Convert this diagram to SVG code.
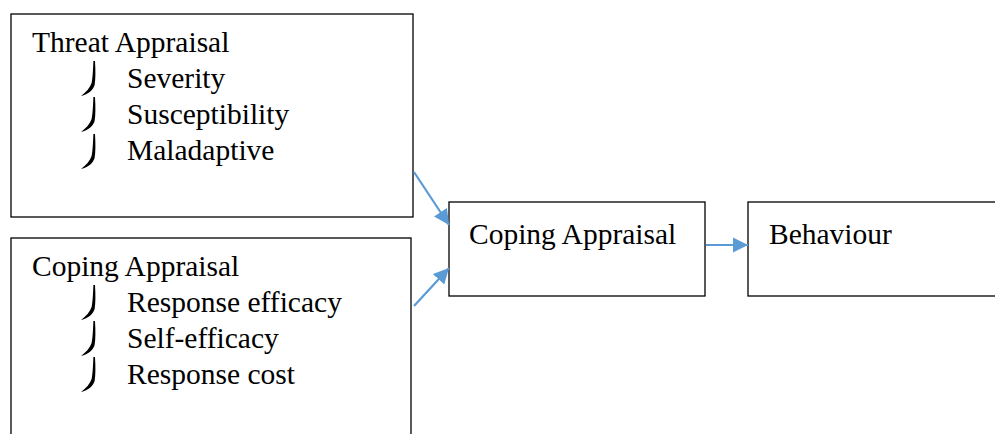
<svg xmlns="http://www.w3.org/2000/svg" width="995" height="434" viewBox="0 0 995 434">
<defs>
<style>
.box{fill:#fff;stroke:#000;stroke-width:1.3}
.t{font-family:'Liberation Serif','Times New Roman',serif;font-size:29.5px;fill:#000}
.c{stroke:#5B9BD5;stroke-width:2.2;fill:none}
</style>
<path id="bul" d="M95,0 C95.6,10 95.6,18 94.6,24 C93.2,29 88.5,33 81,35 C86,31 90,27 91.6,22 C92.8,16 93,8 93.4,0 z" fill="#000"/>
<marker id="ah" viewBox="0 0 10 10" refX="10" refY="5" markerWidth="7" markerHeight="7" markerUnits="strokeWidth" orient="auto">
<path d="M0,0 L10,5 L0,10 z" fill="#5B9BD5"/>
</marker>
</defs>
<rect width="995" height="434" fill="#fff"/>
<g id="threat" font-family="'Liberation Serif','Times New Roman',serif">
<rect class="box" x="11" y="14" width="402" height="203"/>
<text class="t" x="32" y="52">Threat Appraisal</text>
<use href="#bul" y="61"/>
<text class="t" x="127" y="88">Severity</text>
<use href="#bul" y="97"/>
<text class="t" x="127" y="124">Susceptibility</text>
<use href="#bul" y="134"/>
<text class="t" x="127" y="160">Maladaptive</text>
</g>
<g id="coping" font-family="'Liberation Serif','Times New Roman',serif">
<rect class="box" x="11" y="238" width="400" height="210"/>
<text class="t" x="32" y="276">Coping Appraisal</text>
<use href="#bul" y="285"/>
<text class="t" x="127" y="312">Response efficacy</text>
<use href="#bul" y="321"/>
<text class="t" x="127" y="348">Self-efficacy</text>
<use href="#bul" y="357"/>
<text class="t" x="127" y="384">Response cost</text>
</g>
<g id="copingAppraisal" font-family="'Liberation Serif','Times New Roman',serif">
<rect class="box" x="449" y="202" width="256" height="94"/>
<text class="t" x="469" y="244">Coping Appraisal</text>
</g>
<g id="behaviour" font-family="'Liberation Serif','Times New Roman',serif">
<rect class="box" x="748" y="202" width="260" height="94"/>
<text class="t" x="769" y="244">Behaviour</text>
</g>
<g id="connectors">
<line class="c" x1="414" y1="172" x2="449" y2="225" marker-end="url(#ah)"/>
<line class="c" x1="414" y1="306" x2="449" y2="268" marker-end="url(#ah)"/>
<line class="c" x1="706" y1="245" x2="748" y2="245" marker-end="url(#ah)"/>
</g>
</svg>
